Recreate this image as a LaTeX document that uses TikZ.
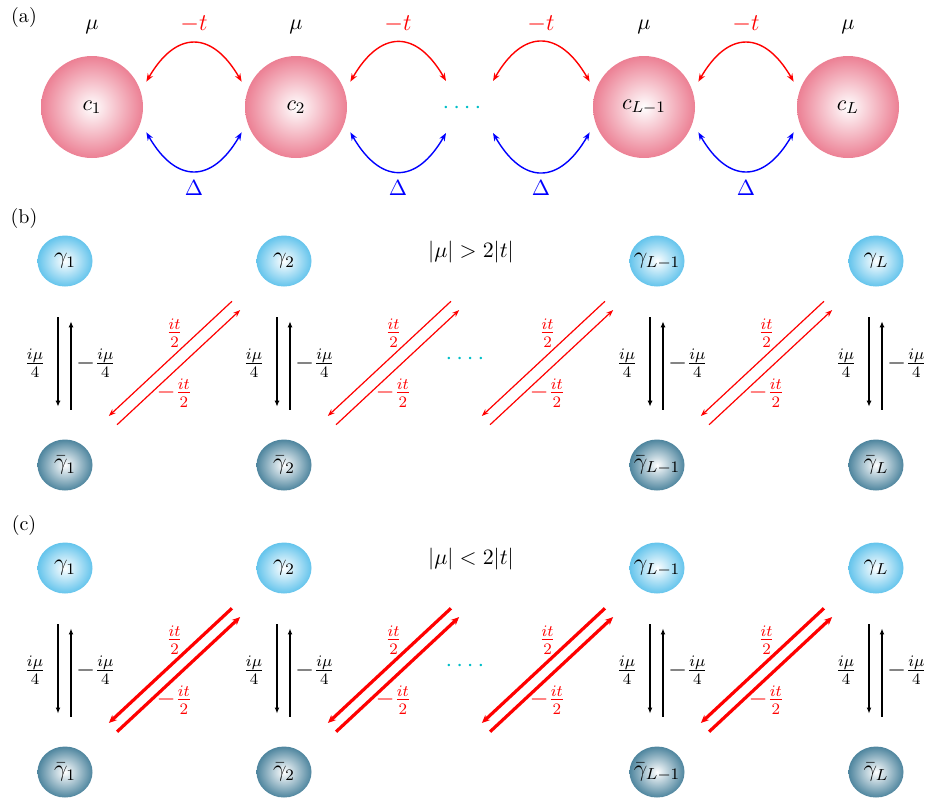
\documentclass[tikz,border=0pt]{standalone}
\usetikzlibrary{arrows.meta,calc,shapes.geometric}
\definecolor{pinkc}{RGB}{236,128,148}
\definecolor{bluec}{RGB}{100,196,236}
\definecolor{tealc}{RGB}{78,133,158}
\definecolor{dotc}{RGB}{0,190,200}
\tikzset{
  site/.style={circle, minimum size=51pt, inner sep=0pt, outer sep=4.5pt, inner color=white, outer color=pinkc, font=\fontsize{11}{13}\selectfont},
  majt/.style={ellipse, minimum width=27.5pt, minimum height=25.5pt, inner xsep=-5pt, inner ysep=0pt, inner color=white, outer color=bluec, font=\large},
  majb/.style={majt, outer color=tealc},
  hopt/.style={red, line width=0.7pt, {Stealth[length=4pt,width=3pt]}-{Stealth[length=4pt,width=3pt]}, looseness=1.6},
  pairt/.style={blue, line width=0.7pt, {Stealth[length=4pt,width=3pt]}-{Stealth[length=4pt,width=3pt]}, looseness=1.6},
  blkb/.style={black, line width=1.4pt, -{Latex[length=3pt,width=2.6pt]}},
  blkc/.style={black, line width=0.6pt, -{Latex[length=3pt,width=2.4pt]}},
  redb/.style={red, line width=0.6pt, -{Stealth[length=3.5pt,width=2.6pt]}},
  redc/.style={red, line width=1.6pt, -{Stealth[length=4pt,width=3.5pt]}},
  rlab/.style={red, inner sep=0pt, font=\large},
  klab/.style={inner sep=0pt, font=\large},
  dotsty/.style={dotc, inner sep=0pt, anchor=base, font=\large},
  ttl/.style={font=\fontsize{11}{13}\selectfont},
  hlab/.style={font=\large},
}
\newcommand{\rpair}[4]{%
  \draw[#3] ($(#2)!0.219!(#1)!3pt!-90:(#1)$) -- ($(#1)!0.219!(#2)!3pt!90:(#2)$);
  \draw[#3] ($(#1)!0.219!(#2)!3pt!-90:(#2)$) -- ($(#2)!0.219!(#1)!3pt!90:(#1)$);
  \node[rlab, yshift=15pt] (ra#4) at ($(#1)!0.5!(#2)$) {$\frac{it}{2}$};
  \node[rlab, yshift=-15pt] (rb#4) at ($(#1)!0.5!(#2)$) {$-\frac{it}{2}$};
}
\newcommand{\kpair}[3]{%
  \draw[#3] ([xshift=-3.5pt,yshift=-15.25pt]#1.south) -- ([xshift=-3.5pt,yshift=16.25pt]#2.north);
  \draw[#3] ([xshift=3pt,yshift=14.75pt]#2.north) -- ([xshift=3pt,yshift=-17.25pt]#1.south);
  \node[klab, xshift=-15pt] (ka#1) at ($(#1)!0.5!(#2)$) {$\frac{i\mu}{4}$};
  \node[klab, xshift=15.5pt] (kb#1) at ($(#1)!0.5!(#2)$) {$-\frac{i\mu}{4}$};
}
\newcommand{\mjpanel}[6]{%
\begin{scope}[shift={(0,#1)}]
  \node (p#2) at (24,218) {#3};
  \node[majt] (g1#2) at (65,261) {$\gamma_1$};
  \node[majt] (g2#2) at (284,261) {$\gamma_2$};
  \node[majt] (gL1#2) at (657,261) {$\gamma_{L-1}$};
  \node[majt] (gL#2) at (876,261) {$\gamma_L$};
  \node[majb] (h1#2) at (65,465) {$\bar\gamma_1$};
  \node[majb] (h2#2) at (284,465) {$\bar\gamma_2$};
  \node[majb] (hL1#2) at (657,465) {$\bar\gamma_{L-1}$};
  \node[majb] (hL#2) at (876,465) {$\bar\gamma_L$};
  \node[ttl] (t#2) at (471,252) {$|\mu| #4 2|t|$};
  \node[dotsty] (dt#2) at (465,364) {$\mathinner{\cdotp\cdotp\cdotp\cdotp}$};
  \coordinate (v2#2) at (503,261);
  \coordinate (v3#2) at (438,465);
  \kpair{g1#2}{h1#2}{#5}
  \kpair{g2#2}{h2#2}{#5}
  \kpair{gL1#2}{hL1#2}{#5}
  \kpair{gL#2}{hL#2}{#5}
  \rpair{h1#2}{g2#2}{#6}{1#2}
  \rpair{h2#2}{v2#2}{#6}{2#2}
  \rpair{v3#2}{gL1#2}{#6}{3#2}
  \rpair{hL1#2}{gL#2}{#6}{4#2}
\end{scope}}
\begin{document}
\begin{tikzpicture}[x=0.5pt,y=-0.5pt]
\useasboundingbox (0,0) rectangle (930,799);
% panel (a)
\node (pa) at (24,17) {(a)};
\node[site] (c1) at (92,107) {$c_1$};
\node[site] (c2) at (296,107) {$c_2$};
\node[site] (cL1) at (644,107) {$c_{L-1}$};
\node[site] (cL) at (848,107) {$c_L$};
\node[ttl] (m1) at (92,27) {$\mu$};
\node[ttl] (m2) at (296,27) {$\mu$};
\node[ttl] (m3) at (644,27) {$\mu$};
\node[ttl] (m4) at (848,27) {$\mu$};
\node[dotsty] (dta) at (462,113) {$\mathinner{\cdotp\cdotp\cdotp\cdotp}$};
\coordinate (d2t) at (446,81);
\coordinate (d3t) at (493,81);
\coordinate (d2b) at (446,133);
\coordinate (d3b) at (493,133);
\draw[hopt] (c1.25) to[out=60,in=120] (c2.155);
\draw[hopt] (c2.25) to[out=60,in=120] (d2t);
\draw[hopt] (d3t) to[out=60,in=120] (cL1.155);
\draw[hopt] (cL1.25) to[out=60,in=120] (cL.155);
\draw[pairt] (c1.-25) to[out=-60,in=-120] (c2.-155);
\draw[pairt] (c2.-25) to[out=-60,in=-120] (d2b);
\draw[pairt] (d3b) to[out=-60,in=-120] (cL1.-155);
\draw[pairt] (cL1.-25) to[out=-60,in=-120] (cL.-155);
\node[hlab, red] (t1) at (194,24) {$-t$};
\node[hlab, red] (t2) at (398,24) {$-t$};
\node[hlab, red] (t3) at (541,24) {$-t$};
\node[hlab, red] (t4) at (746,24) {$-t$};
\node[ttl, blue] (D1) at (194,188) {$\Delta$};
\node[ttl, blue] (D2) at (398,188) {$\Delta$};
\node[ttl, blue] (D3) at (541,188) {$\Delta$};
\node[ttl, blue] (D4) at (746,188) {$\Delta$};
% panels (b), (c)
\mjpanel{0}{b}{(b)}{>}{blkb}{redb}
\mjpanel{307}{c}{(c)}{<}{blkc}{redc}
\end{tikzpicture}
\end{document}
